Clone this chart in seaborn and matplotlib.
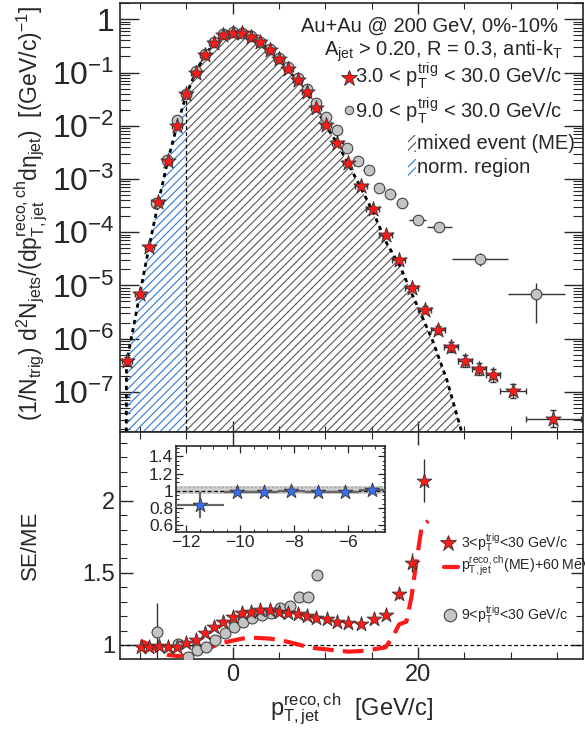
import numpy as np
import pandas as pd
import matplotlib
matplotlib.use("Agg")
import matplotlib.pyplot as plt
import seaborn as sns
from matplotlib.ticker import FixedLocator, MultipleLocator, LogLocator, FuncFormatter, NullFormatter
from matplotlib.patches import Rectangle

# ---------------- data ----------------
# upper panel: 3 < pT,trig < 30 GeV/c (red stars)
star_x = [-11.4, -10.0, -9.0, -8.0, -7.0, -6.0, -5.0, -4.0, -3.0, -2.0, -1.0, 0.0, 1.0, 2.0,
          3.0, 4.0, 5.0, 6.0, 7.0, 8.0, 9.0, 10.1, 11.3, 12.5, 13.8, 15.1, 16.5, 17.9, 19.3,
          20.75, 22.2, 23.6, 25.1, 26.6, 28.1, 30.25, 34.6]
star_y = [3.8e-7, 6.8e-6, 5.3e-5, 3.7e-4, 2.2e-3, 1.0e-2, 3.9e-2, 0.10, 0.21, 0.36, 0.50, 0.56,
          0.55, 0.47, 0.37, 0.265, 0.178, 0.115, 0.072, 0.043, 0.0215, 0.0105, 4.8e-3, 2.0e-3,
          7.3e-4, 2.7e-4, 8.7e-5, 3.0e-5, 9.1e-6, 3.5e-6, 1.45e-6, 6.9e-7, 3.8e-7, 2.7e-7,
          2.05e-7, 1.05e-7, 3.1e-8]
star_xerr = [0.5] * 21 + [0.55, 0.6, 0.6, 0.65, 0.7, 0.7, 0.7, 0.7, 0.7, 0.75, 0.75, 0.75,
                          0.75, 0.75, 1.4, 3.0]
star_logerr = [0.08, 0.05, 0.04, 0.03] + [0.02] * 21 + [0.03, 0.03, 0.04, 0.05, 0.06, 0.07,
                                                       0.09, 0.11, 0.12, 0.125, 0.13, 0.16]

# upper panel: 9 < pT,trig < 30 GeV/c (grey circles)
circ_x = [-8.28, -7.03, -6.0, -5.0, -4.0, -3.0, -2.0, -1.0, 0.0, 1.0, 2.0, 3.0, 4.0, 5.0, 6.0,
          7.0, 8.0, 9.0, 10.1, 11.25, 12.33, 13.5, 14.66, 15.8, 17.0, 18.25, 19.96, 22.3,
          26.67, 32.76]
circ_y = [3.6e-4, 2.3e-3, 1.26e-2, 4.0e-2, 0.105, 0.22, 0.37, 0.52, 0.58, 0.56, 0.48, 0.38,
          0.28, 0.19, 0.125, 0.08, 0.048, 0.0267, 0.0146, 8.2e-3, 3.8e-3, 2.15e-3, 1.5e-3,
          6.8e-4, 5.25e-4, 3.5e-4, 1.7e-4, 1.25e-4, 3.1e-5, 6.8e-6]
circ_xerr = [0.5] * 19 + [0.55, 0.55, 0.6, 0.6, 0.6, 0.6, 0.65, 0.93, 1.35, 3.0, 3.1]
circ_logerr_lo = [0.02] * 25 + [0.03, 0.04, 0.05, 0.13, 0.53]
circ_logerr_hi = [0.02] * 25 + [0.03, 0.04, 0.05, 0.12, 0.22]

# mixed-event distribution
me_x = [-11.5, -11.45, -10.0, -9.0, -8.0, -7.0, -6.0, -5.0, -4.0, -3.0, -2.0, -1.0, 0.0, 1.0,
        2.0, 3.0, 4.0, 5.0, 6.0, 7.0, 8.0, 9.0, 10.0, 11.3, 12.5, 13.8, 15.1, 16.6, 18.06,
        19.3, 20.4, 21.65, 23.1, 24.7, 25.0]
me_y = [1e-9, 3.5e-7, 7.0e-6, 5.5e-5, 3.7e-4, 2.2e-3, 1.0e-2, 3.8e-2, 0.10, 0.21, 0.36, 0.50,
        0.56, 0.55, 0.47, 0.37, 0.265, 0.175, 0.112, 0.07, 0.042, 0.021, 0.0105, 4.6e-3,
        1.9e-3, 7.0e-4, 2.5e-4, 6.3e-5, 2.3e-5, 7.2e-6, 2.7e-6, 8.5e-7, 1.7e-7, 1.8e-8, 1e-9]
norm_edge = -5.0

# lower panel: SE/ME ratios
rs_x = [-9.93, -9.0, -7.96, -6.96, -5.96, -5.0, -4.0, -3.0, -2.0, -1.0, 0.0, 1.0, 2.0, 3.0,
        4.0, 5.0, 6.0, 7.0, 8.0, 9.0, 10.14, 11.3, 12.5, 13.8, 15.2, 16.5, 17.96, 19.3, 20.7]
rs_y = [0.984, 0.984, 0.993, 0.984, 0.988, 1.012, 1.035, 1.081, 1.122, 1.162, 1.196, 1.219,
        1.231, 1.242, 1.242, 1.231, 1.219, 1.212, 1.2, 1.185, 1.178, 1.162, 1.15, 1.145,
        1.178, 1.206, 1.351, 1.570, 2.139]
rs_yerr = [0.01] * 26 + [0.03, 0.065, 0.15]

rc_x = [-8.18, -5.86, -4.86, -3.86, -2.86, -1.86, -0.86, 0.14, 1.14, 2.14, 3.14, 4.14, 5.14,
        6.14, 7.14, 8.14, 9.14]
rc_y = [1.09, 1.005, 0.915, 0.965, 0.984, 1.035, 1.085, 1.127, 1.157, 1.185, 1.206, 1.219,
        1.259, 1.270, 1.335, 1.335, 1.483]
rc_yerr = [0.2] + [0.01] * 15 + [0.015]

me60_x = [-9.93, -8.93, -7.96, -6.96, -5.96, -5.0, -4.0, -3.0, -2.0, -1.0, 0.0, 1.0, 2.0, 3.0,
          4.0, 5.0, 6.0, 7.0, 8.0, 9.0, 10.1, 11.3, 12.5, 13.8, 15.2, 16.5, 17.3, 17.96, 18.75,
          19.3, 19.8, 20.4, 21.1]
me60_y = [1.03, 1.0, 0.954, 0.931, 0.924, 0.926, 0.942, 0.965, 0.993, 1.016, 1.03, 1.044,
          1.051, 1.048, 1.044, 1.035, 1.021, 1.005, 0.988, 0.977, 0.97, 0.961, 0.954, 0.958,
          0.97, 0.984, 1.058, 1.143, 1.162, 1.335, 1.566, 1.82, 1.86]

# inset: normalisation region
in_x = [-11.5, -10.1, -9.1, -8.1, -7.1, -6.1, -5.1]
in_y = [0.835, 0.98, 0.98, 1.0, 0.98, 0.98, 1.01]
in_xerr = [0.9, 0.5, 0.5, 0.5, 0.5, 0.5, 0.5]
in_yerr = [0.15, 0.03, 0.03, 0.03, 0.03, 0.03, 0.03]
band_lo, band_hi = 0.96, 1.05

# ---------------- style ----------------
sns.set_style("ticks")
plt.rcParams["font.family"] = ["Liberation Sans", "DejaVu Sans"]
plt.rcParams["mathtext.fontset"] = "custom"
plt.rcParams["mathtext.rm"] = "Liberation Sans"
plt.rcParams["mathtext.it"] = "Liberation Sans"
plt.rcParams["mathtext.bf"] = "Liberation Sans:bold"
plt.rcParams["hatch.linewidth"] = 0.8
plt.rcParams["axes.linewidth"] = 1.2

RED = "#ff1a1a"
GREY = "#c4c4c4"
BLUE = "#3a6df0"

fig = plt.figure(figsize=(5.85, 7.31), dpi=100)
ax1 = fig.add_axes([0.2051, 0.409, 0.7915, 0.587])
ax2 = fig.add_axes([0.2051, 0.0985, 0.7915, 0.3105])
axin = fig.add_axes([0.3009, 0.2722, 0.357, 0.1176])

XLIM = (-12.15, 37.8)

# ---------------- upper panel ----------------
me_df = pd.DataFrame({"x": me_x, "y": me_y})
blue_part = me_df[me_df.x <= norm_edge]
grey_part = me_df[me_df.x >= norm_edge]
ax1.fill_between(grey_part.x, grey_part.y, 1e-9, facecolor="none", edgecolor="#555555",
                 hatch="////", linewidth=0, zorder=1)
ax1.fill_between(blue_part.x, blue_part.y, 1e-9, facecolor="none", edgecolor="#2a78d0",
                 hatch="////", linewidth=0, zorder=1)
ax1.plot([norm_edge, norm_edge], [1e-9, float(me_df.y[me_df.x == norm_edge].iloc[0])],
         color="k", lw=0.9, ls=(0, (3, 2)), zorder=2)
sns.lineplot(data=me_df, x="x", y="y", ax=ax1, color="k", lw=2.0, linestyle=(0, (1.5, 1.5)),
             estimator=None, sort=False, zorder=3)

cy = np.array(circ_y)
ax1.errorbar(circ_x, cy, xerr=circ_xerr,
             yerr=[cy - cy / 10 ** np.array(circ_logerr_lo), cy * 10 ** np.array(circ_logerr_hi) - cy],
             fmt="none", ecolor="#333333", elinewidth=1.0, capsize=0, zorder=4)
sy = np.array(star_y)
ax1.errorbar(star_x, sy, xerr=star_xerr,
             yerr=[sy - sy / 10 ** np.array(star_logerr), sy * 10 ** np.array(star_logerr) - sy],
             fmt="none", ecolor="#333333", elinewidth=1.0, capsize=2, zorder=5)
sns.scatterplot(x=circ_x, y=circ_y, ax=ax1, marker="o", s=58, color=GREY, edgecolor="#444444",
                linewidth=0.8, zorder=6)
sns.scatterplot(x=star_x, y=star_y, ax=ax1, marker="*", s=135, color=RED, edgecolor="#333333",
                linewidth=0.6, zorder=7)

ax1.set_yscale("log")
ax1.set_xlim(*XLIM)
ax1.set_ylim(1.76e-8, 2.03)
ax1.set_xlabel("")
ax1.set_ylabel("")


def log_fmt(v, p):
    e = int(round(np.log10(v)))
    return "1" if e == 0 else r"$10^{%d}$" % e


ax1.yaxis.set_major_locator(LogLocator(base=10, numticks=20))
ax1.yaxis.set_minor_locator(LogLocator(base=10, subs=np.arange(2, 10), numticks=20))
ax1.yaxis.set_major_formatter(FuncFormatter(log_fmt))
ax1.yaxis.set_minor_formatter(NullFormatter())
ax1.xaxis.set_major_locator(MultipleLocator(20))
ax1.xaxis.set_minor_locator(MultipleLocator(5))
ax1.tick_params(axis="both", which="both", direction="in", top=True, right=True)
ax1.tick_params(axis="y", which="major", length=14, width=1.0, labelsize=23, pad=4)
ax1.tick_params(axis="y", which="minor", length=7, width=0.8)
ax1.tick_params(axis="x", which="major", length=8, width=1.0, labelbottom=False)
ax1.tick_params(axis="x", which="minor", length=4, width=0.8)

# legend / labels of the upper panel
tkw = dict(transform=ax1.transAxes, fontsize=14.5, ha="right", va="center")
ax1.text(0.946, 0.946, "Au+Au @ 200 GeV, 0%-10%", **tkw)
ax1.text(0.957, 0.888, r"A$_{\mathrm{jet}}$ > 0.20, R = 0.3, anti-k$_{\mathrm{T}}$", **tkw)
ax1.text(0.955, 0.830, r"3.0 < p$_{\mathrm{T}}^{\mathrm{trig}}$ < 30.0 GeV/c", **tkw)
ax1.text(0.955, 0.750, r"9.0 < p$_{\mathrm{T}}^{\mathrm{trig}}$ < 30.0 GeV/c", **tkw)
ax1.plot([0.494], [0.826], marker="*", ms=12, color=RED, mec="#333333", mew=0.6,
         transform=ax1.transAxes, clip_on=False)
ax1.plot([0.494], [0.751], marker="o", ms=6, color=GREY, mec="#444444", mew=0.8,
         transform=ax1.transAxes, clip_on=False)
ax1.add_patch(Rectangle((0.622, 0.652), 0.018, 0.040, transform=ax1.transAxes,
                        facecolor="none", edgecolor="#555555", hatch="////", linewidth=0))
ax1.add_patch(Rectangle((0.622, 0.596), 0.018, 0.040, transform=ax1.transAxes,
                        facecolor="none", edgecolor="#2a78d0", hatch="////", linewidth=0))
ax1.text(0.641, 0.672, "mixed event (ME)", transform=ax1.transAxes, fontsize=14.5, va="center")
ax1.text(0.641, 0.616, "norm. region", transform=ax1.transAxes, fontsize=14.5, va="center")

fig.text(0.052, 0.708,
         r"(1/N$_{\mathrm{trig}}$) d$^{2}$N$_{\mathrm{jets}}$/(dp$_{\mathrm{T,jet}}^{\mathrm{reco,ch}}$d$\eta_{\mathrm{jet}}$)  [(GeV/c)$^{-1}$]",
         rotation=90, ha="center", va="center", fontsize=16.5)

# ---------------- lower panel ----------------
ax2.axhline(1.0, color="k", lw=0.9, ls=(0, (3, 2)), zorder=1)
sns.lineplot(x=me60_x, y=me60_y, ax=ax2, color=RED, lw=3.0, linestyle=(0, (5, 2.2)),
             estimator=None, sort=False, zorder=2)
ax2.errorbar(rc_x, rc_y, yerr=rc_yerr, fmt="none", ecolor="#333333", elinewidth=1.0, zorder=3)
ax2.errorbar(rs_x, rs_y, yerr=rs_yerr, fmt="none", ecolor="#333333", elinewidth=1.0, zorder=4)
sns.scatterplot(x=rc_x, y=rc_y, ax=ax2, marker="o", s=62, color=GREY, edgecolor="#444444",
                linewidth=0.8, zorder=5)
sns.scatterplot(x=rs_x, y=rs_y, ax=ax2, marker="*", s=125, color=RED, edgecolor="#333333",
                linewidth=0.6, zorder=6)
ax2.set_xlim(*XLIM)
ax2.set_ylim(0.903, 2.476)
ax2.yaxis.set_major_locator(FixedLocator([1.0, 1.5, 2.0]))
ax2.yaxis.set_major_formatter(FuncFormatter(lambda v, p: "%g" % v))
ax2.yaxis.set_minor_locator(MultipleLocator(0.1))
ax2.xaxis.set_major_locator(MultipleLocator(20))
ax2.xaxis.set_minor_locator(MultipleLocator(5))
ax2.tick_params(axis="both", which="both", direction="in", top=True, right=True)
ax2.tick_params(axis="both", which="major", length=9, width=1.0, labelsize=17)
ax2.tick_params(axis="both", which="minor", length=5, width=0.8)
ax2.set_ylabel("")
ax2.set_xlabel(r"p$_{\mathrm{T,jet}}^{\mathrm{reco,ch}}$  [GeV/c]", fontsize=17, labelpad=4)
fig.text(0.052, 0.254, "SE/ME", rotation=90, ha="center", va="center", fontsize=16)

# lower legend
ax2.plot([0.708], [0.51], marker="*", ms=12, color=RED, mec="#333333", mew=0.6,
         transform=ax2.transAxes, clip_on=False)
ax2.text(0.736, 0.51, r"3<p$_{\mathrm{T}}^{\mathrm{trig}}$<30 GeV/c", transform=ax2.transAxes,
         fontsize=10.2, va="center")
ax2.plot([0.700, 0.731], [0.406, 0.406], color=RED, lw=3.0, transform=ax2.transAxes)
ax2.text(0.736, 0.406, r"p$_{\mathrm{T,jet}}^{\mathrm{reco,ch}}$(ME)+60 MeV/c",
         transform=ax2.transAxes, fontsize=10.2, va="center", clip_on=False)
ax2.plot([0.713], [0.194], marker="o", ms=9, color=GREY, mec="#444444", mew=0.8,
         transform=ax2.transAxes, clip_on=False)
ax2.text(0.736, 0.194, r"9<p$_{\mathrm{T}}^{\mathrm{trig}}$<30 GeV/c", transform=ax2.transAxes,
         fontsize=10.2, va="center")

# ---------------- inset ----------------
axin.set_facecolor("white")
axin.set_zorder(10)
axin.fill_between([-12.37, -4.64], band_lo, band_hi, facecolor="#d0d0d0", edgecolor="#aaaaaa",
                  hatch="....", linewidth=0, zorder=1)
axin.axhline(1.0, color="k", lw=0.9, ls=(0, (3, 2)), zorder=2)
axin.errorbar(in_x, in_y, xerr=in_xerr, yerr=in_yerr, fmt="none", ecolor="#666666",
              elinewidth=1.6, zorder=3)
sns.scatterplot(x=in_x, y=in_y, ax=axin, marker="*", s=120, color=BLUE, edgecolor="#333333",
                linewidth=0.6, zorder=4)
axin.set_xlim(-12.37, -4.64)
axin.set_ylim(0.52, 1.52)
axin.xaxis.set_major_locator(MultipleLocator(2))
axin.xaxis.set_minor_locator(MultipleLocator(0.5))
axin.yaxis.set_major_locator(MultipleLocator(0.2))
axin.yaxis.set_minor_locator(MultipleLocator(0.05))
axin.yaxis.set_major_formatter(FuncFormatter(lambda v, p: "%g" % round(v, 2)))
axin.tick_params(axis="both", which="both", direction="in", top=True, right=True)
axin.tick_params(axis="both", which="major", length=5, width=0.9, labelsize=12.5, pad=2)
axin.tick_params(axis="both", which="minor", length=2.5, width=0.7)
for sp in axin.spines.values():
    sp.set_linewidth(1.2)

fig.savefig("out.png", dpi=100)
